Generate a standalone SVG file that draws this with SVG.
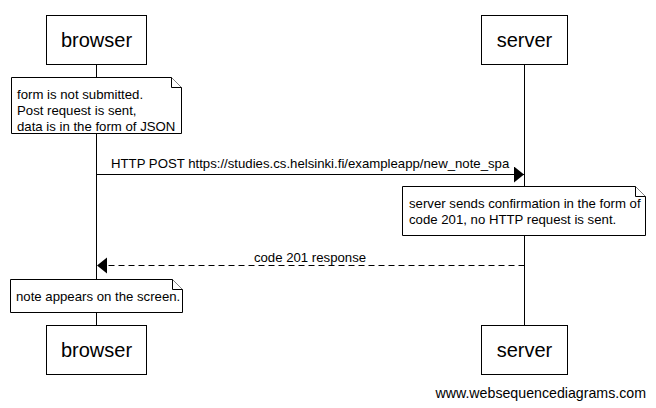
<svg xmlns="http://www.w3.org/2000/svg" width="656" height="408" viewBox="0 0 656 408">
<defs>
<style>
.box{fill:#fff;stroke:#000;stroke-width:1}
.life{stroke:#000;stroke-width:1}
.actor{font-family:"Liberation Sans",Arial,sans-serif;font-size:20px;text-anchor:middle;fill:#000}
.t{font-family:"Liberation Sans",Arial,sans-serif;font-size:13.2px;fill:#000}
.note{fill:#fff;stroke:#000;stroke-width:1}
</style>
<marker id="ah" markerWidth="12" markerHeight="18" refX="10" refY="8" orient="auto" markerUnits="userSpaceOnUse">
<path d="M0,0 L10,8 L0,16 Z" fill="#000"/>
</marker>
</defs>
<rect width="656" height="408" fill="#fff"/>
<g id="lifelines">
<line class="life" x1="96.5" y1="64" x2="96.5" y2="325"/>
<line class="life" x1="524.5" y1="64" x2="524.5" y2="325"/>
</g>
<g id="browser-top"><rect class="box" x="46.5" y="15.5" width="100" height="49"/><text class="actor" x="96.5" y="47">browser</text></g>
<g id="server-top"><rect class="box" x="481.5" y="15.5" width="86" height="49"/><text class="actor" x="524.5" y="47">server</text></g>
<g id="browser-bottom"><rect class="box" x="46.5" y="325.5" width="100" height="49"/><text class="actor" x="96.5" y="357">browser</text></g>
<g id="server-bottom"><rect class="box" x="481.5" y="325.5" width="86" height="49"/><text class="actor" x="524.5" y="357">server</text></g>
<g id="note1">
<path class="note" d="M11.5,77.5 H171.5 L181.5,87.5 V133.5 H11.5 Z"/>
<path class="note" d="M171.5,77.5 V87.5 H181.5" fill="none"/>
<text class="t" x="17" y="99">form is not submitted.</text>
<text class="t" x="17" y="115">Post request is sent,</text>
<text class="t" x="17" y="131">data is in the form of JSON</text>
</g>
<g id="note2">
<path class="note" d="M402.5,186.5 H635.5 L645.5,196.5 V235.5 H402.5 Z"/>
<path class="note" d="M635.5,186.5 V196.5 H645.5" fill="none"/>
<text class="t" x="409" y="208">server sends confirmation in the form of</text>
<text class="t" x="409" y="224">code 201, no HTTP request is sent.</text>
</g>
<g id="note3">
<path class="note" d="M10.5,279.5 H172.5 L182.5,289.5 V312.5 H10.5 Z"/>
<path class="note" d="M172.5,279.5 V289.5 H182.5" fill="none"/>
<text class="t" x="16" y="301">note appears on the screen.</text>
</g>
<g id="connectors">
<line x1="96.5" y1="174.5" x2="524" y2="174.5" stroke="#000" marker-end="url(#ah)"/>
<text class="t" x="111" y="168">HTTP POST https://studies.cs.helsinki.fi/exampleapp/new_note_spa</text>
<line x1="524.5" y1="265.5" x2="97" y2="265.5" stroke="#000" stroke-dasharray="6,4" marker-end="url(#ah)"/>
<text class="t" x="310" y="262" text-anchor="middle">code 201 response</text>
</g>
<text x="646" y="398" font-family="'Liberation Sans',Arial,sans-serif" font-size="14.2" text-anchor="end" fill="#000">www.websequencediagrams.com</text>
</svg>
